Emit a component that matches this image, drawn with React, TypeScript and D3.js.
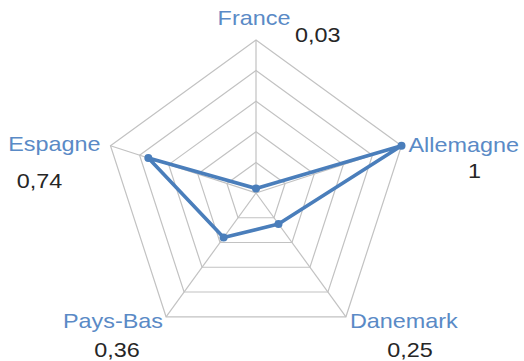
import React from "react";
import * as d3 from "d3";

const categories = ["France", "Allemagne", "Danemark", "Pays-Bas", "Espagne"];
const values = [0.03, 1, 0.25, 0.36, 0.74];
const valueLabels = ["0,03", "1", "0,25", "0,36", "0,74"];
const ringLevels = [0.2, 0.4, 0.6, 0.8, 1];

// label layout: [dx, dy, anchor] for category name and for value, relative to the axis end
const nameOffsets: [number, number, string][] = [
  [-2, -15, "middle"],
  [7, 6, "start"],
  [4, 11, "start"],
  [-3, 11, "end"],
  [-10, 5, "end"],
];
const valueOffsets: [number, number, string][] = [
  [39, 2, "start"],
  [73, 32, "middle"],
  [64, 40, "middle"],
  [-49, 40, "middle"],
  [-71, 42, "middle"],
];

export default function App() {
  const W = 524, H = 361;
  const cx = 256, cy = 193;
  const r = d3.scaleLinear().domain([0, 1]).range([0, 153]);
  const angle = d3
    .scalePoint<string>()
    .domain(categories)
    .range([0, 2 * Math.PI - (2 * Math.PI) / categories.length]);
  const pt = (c: string, v: number): [number, number] => {
    const a = angle(c)!;
    return [cx + r(v) * Math.sin(a), cy - r(v) * Math.cos(a)];
  };
  const radial = d3
    .lineRadial<number>()
    .angle((_, i) => angle(categories[i])!)
    .radius((d) => r(d))
    .curve(d3.curveLinearClosed);

  const sx = 1.17;
  const txt = (x: number, y: number, s: string, anchor: string, fill: string, key: string) => (
    <text
      key={key}
      transform={`translate(${x},${y}) scale(${sx},1)`}
      textAnchor={anchor as any}
      fill={fill}
      fontSize={20}
      fontFamily="'Liberation Sans', Arial, sans-serif"
    >
      {s}
    </text>
  );

  return (
    <svg
      width={W}
      height={H}
      style={{ position: "absolute", left: 0, top: 0 }}
      viewBox={`0 0 ${W} ${H}`}
    >
      <rect width={W} height={H} fill="#fff" />
      <g transform={`translate(${cx},${cy})`}>
        {ringLevels.map((lv) => (
          <path
            key={lv}
            d={radial(categories.map(() => lv)) || ""}
            fill="none"
            stroke="#c2c2c2"
            strokeWidth={1.2}
          />
        ))}
      </g>
      {categories.map((c) => {
        const [x, y] = pt(c, 1);
        return <line key={c} x1={cx} y1={cy} x2={x} y2={y} stroke="#c2c2c2" strokeWidth={1.2} />;
      })}
      <g transform={`translate(${cx},${cy})`}>
        <path d={radial(values) || ""} fill="none" stroke="#4a7ebb" strokeWidth={3.6} strokeLinejoin="round" />
      </g>
      {categories.map((c, i) => {
        const [x, y] = pt(c, values[i]);
        return <circle key={c} cx={x} cy={y} r={4} fill="#4a7ebb" />;
      })}
      {categories.map((c, i) => {
        const [x, y] = pt(c, 1);
        const [dx, dy, an] = nameOffsets[i];
        return txt(x + dx, y + dy, c, an, "#5a8ac6", "n" + c);
      })}
      {categories.map((c, i) => {
        const [x, y] = pt(c, 1);
        const [dx, dy, an] = valueOffsets[i];
        return txt(x + dx, y + dy, valueLabels[i], an, "#262626", "v" + c);
      })}
    </svg>
  );
}
